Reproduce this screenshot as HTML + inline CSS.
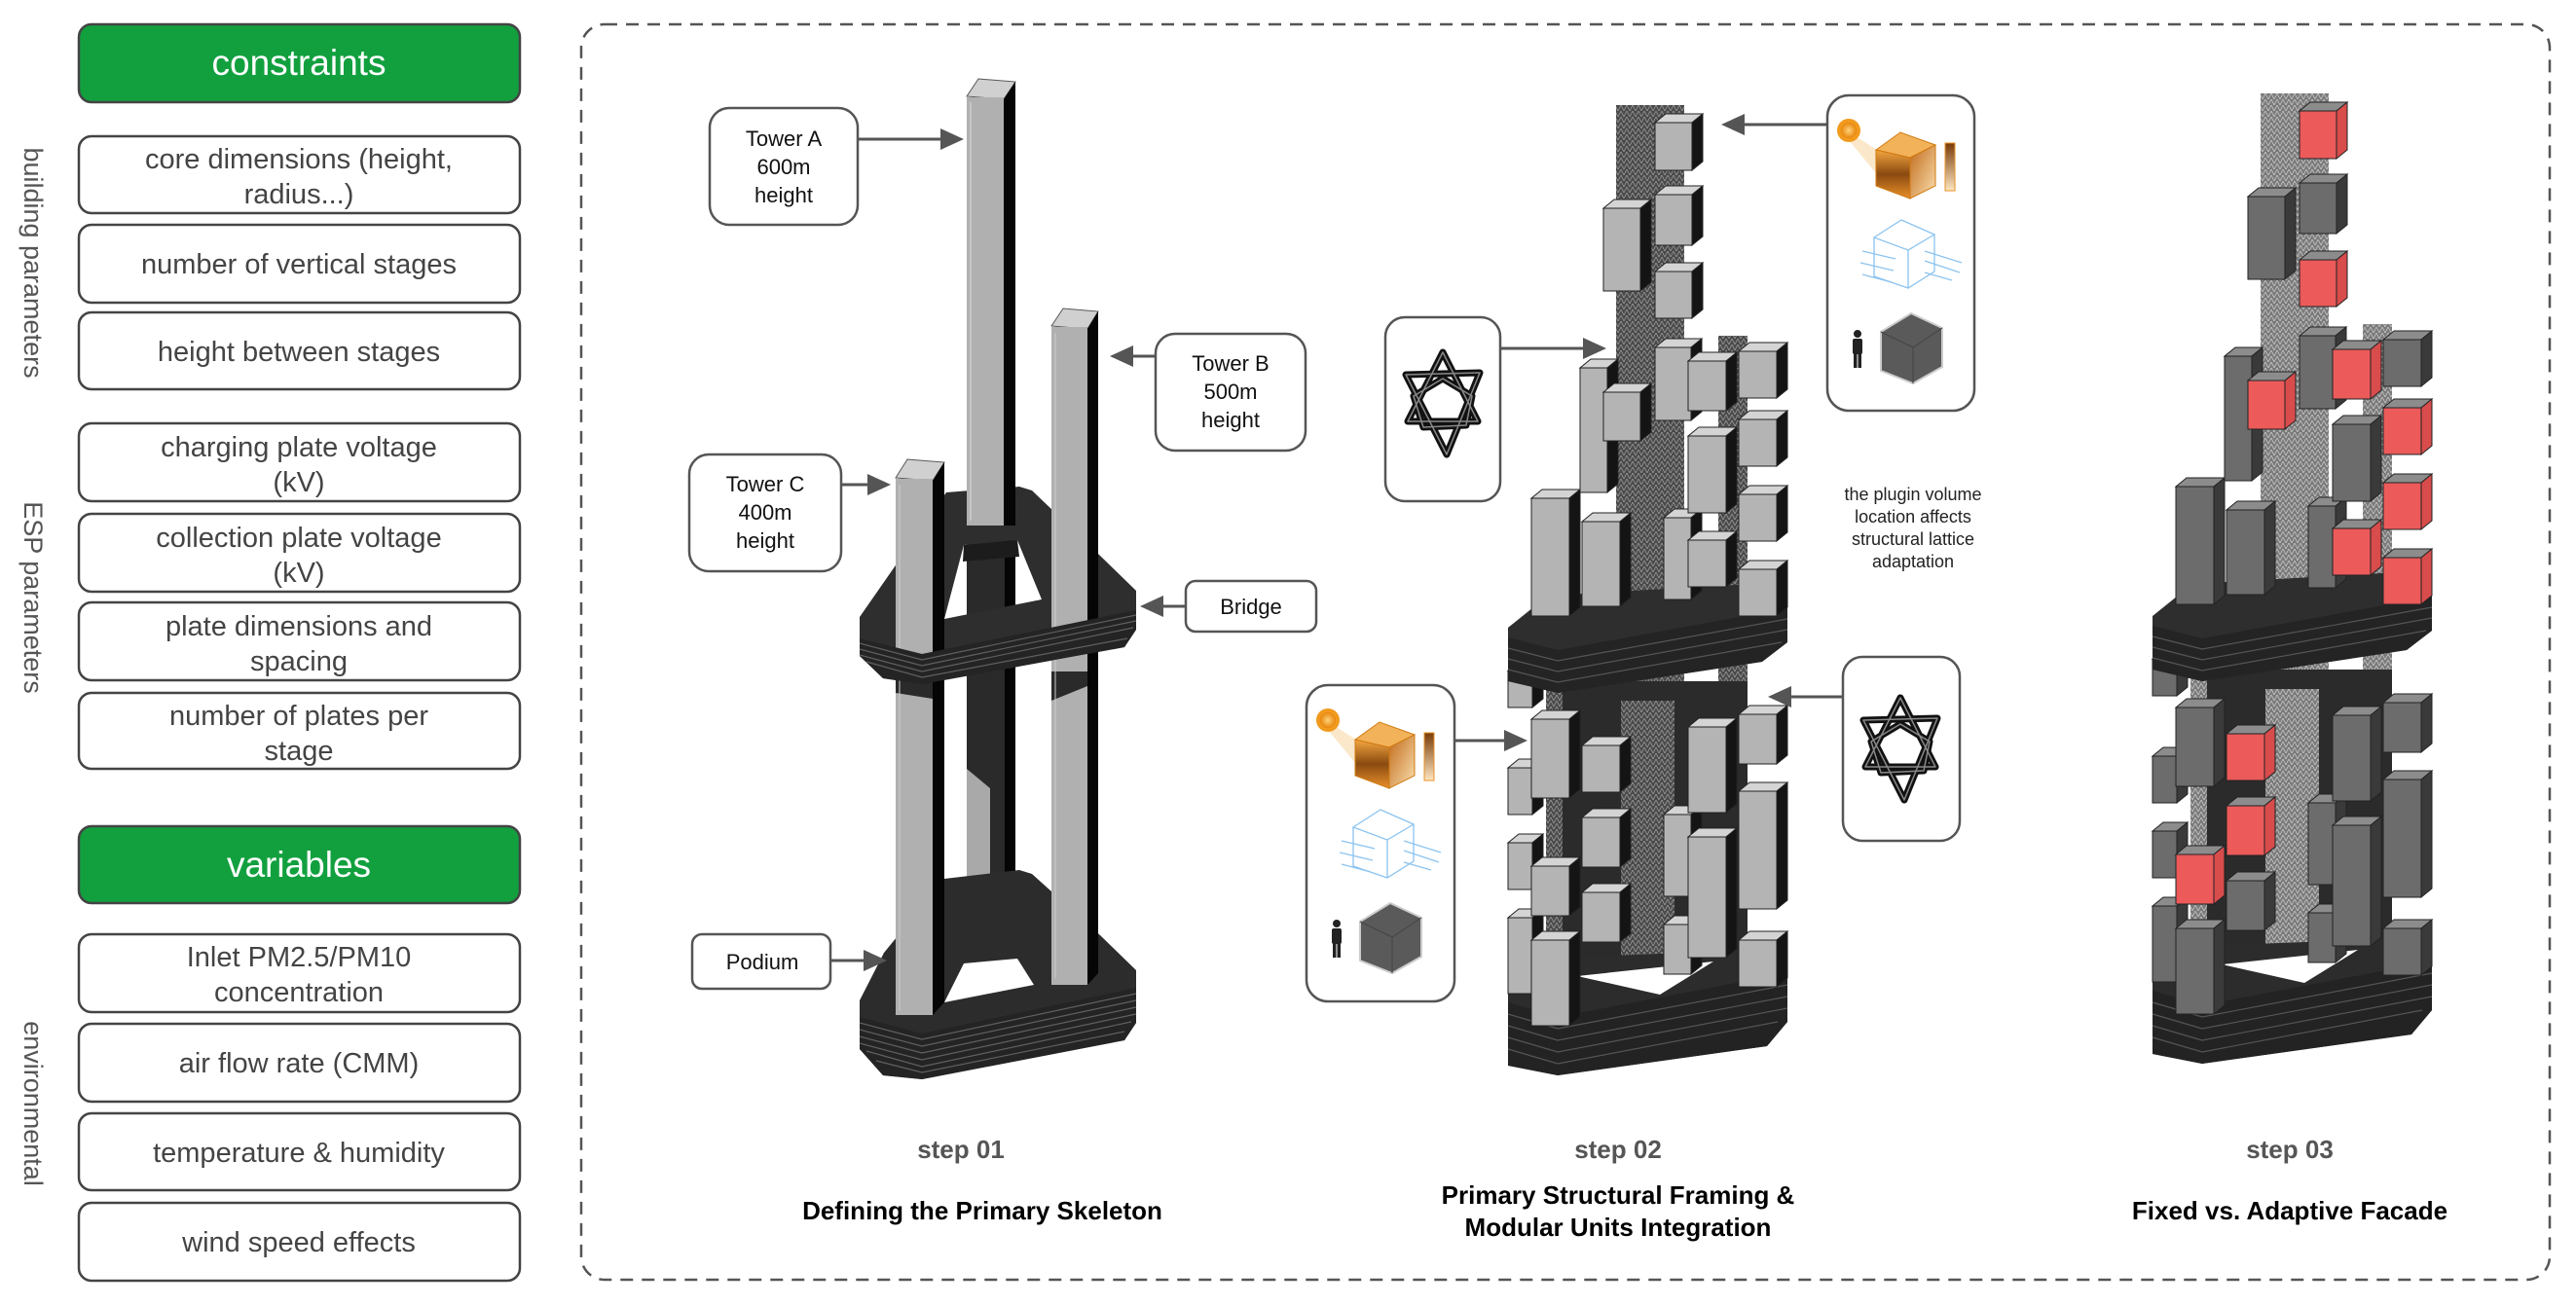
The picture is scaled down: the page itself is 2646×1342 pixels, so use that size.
<!DOCTYPE html>
<html><head><meta charset="utf-8">
<style>
html,body{margin:0;padding:0;background:#fff;}
svg{display:block}
.f{fill:var(--f)} .t{fill:var(--t)} .s{fill:var(--s)}
.f.r{fill:var(--rf)} .s.r{fill:var(--rs)}
.cubes rect, .cubes path{stroke:#222;stroke-width:1}
.c2{--f:#b4b4b4;--t:#d4d4d4;--s:#141414;--rf:#b4b4b4;--rs:#141414}
.c3{--f:#6c6c6c;--t:#8c8c8c;--s:#3a3a3a;--rf:#ec5a5a;--rs:#d84c4c}
.lbl{font-family:"Liberation Sans",Arial,sans-serif;}
</style></head>
<body>
<svg width="2646" height="1342" viewBox="0 0 2646 1342" xmlns="http://www.w3.org/2000/svg">
<defs>
  <pattern id="lat" width="6" height="6" patternUnits="userSpaceOnUse">
    <rect width="6" height="6" fill="#4a4a4a"/>
    <path d="M0 6L3 0L6 6" stroke="#9a9a9a" stroke-width="0.8" fill="none"/>
  </pattern>
  <pattern id="lat3" width="6" height="6" patternUnits="userSpaceOnUse">
    <rect width="6" height="6" fill="#7a7a7a"/>
    <path d="M0 6L3 0L6 6" stroke="#c8c8c8" stroke-width="0.8" fill="none"/>
  </pattern>

  <g id="tower">
    <rect x="1660" y="108" width="70" height="890" fill="var(--lat)"/>
    <rect x="1765" y="345" width="30" height="650" fill="var(--lat)"/>
    <rect x="1588" y="640" width="34" height="350" fill="var(--lat)"/>
    <rect x="1605" y="700" width="190" height="290" fill="#2b2b2b"/>
    <rect x="1665" y="720" width="55" height="270" fill="var(--lat)"/>
    <polygon points="1549,1010 1575,985 1836,975 1836,1050 1815,1075 1600,1105 1549,1095" fill="#2c2c2c"/>
    <polygon points="1620,1003 1760,988 1705,1022" fill="#fff"/>
    <polygon points="1549,1030 1600,1045 1836,1000 1836,1050 1815,1075 1600,1105 1549,1095" fill="#232323"/>
    <g stroke="#555" stroke-width="1.2" fill="none">
      <polyline points="1549,1042 1600,1057 1836,1012"/>
      <polyline points="1549,1054 1600,1069 1836,1024"/>
      <polyline points="1549,1066 1600,1081 1836,1036"/>
      <polyline points="1549,1078 1600,1093 1826,1050"/>
    </g>
    <g class="cubes">
      <g transform="translate(1786 734)"><rect class="f" width="39" height="51"/><path class="t" d="M0 0l11-9h39l-11 9z"/><path class="s" d="M39 0l11-9v51l-11 9z"/></g>
      <g transform="translate(1786 813)"><rect class="f" width="39" height="121"/><path class="t" d="M0 0l11-9h39l-11 9z"/><path class="s" d="M39 0l11-9v121l-11 9z"/></g>
      <g transform="translate(1786 966)"><rect class="f" width="39" height="48"/><path class="t" d="M0 0l11-9h39l-11 9z"/><path class="s" d="M39 0l11-9v48l-11 9z"/></g>
      <g transform="translate(1549 689)"><rect class="f" width="25" height="38"/><path class="t" d="M0 0l11-9h25l-11 9z"/><path class="s" d="M25 0l11-9v38l-11 9z"/></g>
      <g transform="translate(1549 789)"><rect class="f" width="25" height="48"/><path class="t" d="M0 0l11-9h25l-11 9z"/><path class="s" d="M25 0l11-9v48l-11 9z"/></g>
      <g transform="translate(1549 866)"><rect class="f" width="25" height="48"/><path class="t" d="M0 0l11-9h25l-11 9z"/><path class="s" d="M25 0l11-9v48l-11 9z"/></g>
      <g transform="translate(1549 943)"><rect class="f" width="25" height="78"/><path class="t" d="M0 0l11-9h25l-11 9z"/><path class="s" d="M25 0l11-9v78l-11 9z"/></g>
      <g transform="translate(1573 739)"><rect class="f" width="39" height="81"/><path class="t" d="M0 0l11-9h39l-11 9z"/><path class="s" d="M39 0l11-9v81l-11 9z"/></g>
      <g transform="translate(1573 890)"><rect class="f r" width="39" height="51"/><path class="t" d="M0 0l11-9h39l-11 9z"/><path class="s r" d="M39 0l11-9v51l-11 9z"/></g>
      <g transform="translate(1573 966)"><rect class="f" width="39" height="88"/><path class="t" d="M0 0l11-9h39l-11 9z"/><path class="s" d="M39 0l11-9v88l-11 9z"/></g>
      <g transform="translate(1625 766)"><rect class="f r" width="39" height="48"/><path class="t" d="M0 0l11-9h39l-11 9z"/><path class="s r" d="M39 0l11-9v48l-11 9z"/></g>
      <g transform="translate(1625 840)"><rect class="f r" width="39" height="51"/><path class="t" d="M0 0l11-9h39l-11 9z"/><path class="s r" d="M39 0l11-9v51l-11 9z"/></g>
      <g transform="translate(1625 917)"><rect class="f" width="39" height="51"/><path class="t" d="M0 0l11-9h39l-11 9z"/><path class="s" d="M39 0l11-9v51l-11 9z"/></g>
      <g transform="translate(1709 837)"><rect class="f" width="28" height="84"/><path class="t" d="M0 0l11-9h28l-11 9z"/><path class="s" d="M28 0l11-9v84l-11 9z"/></g>
      <g transform="translate(1709 950)"><rect class="f" width="28" height="51"/><path class="t" d="M0 0l11-9h28l-11 9z"/><path class="s" d="M28 0l11-9v51l-11 9z"/></g>
      <g transform="translate(1734 747)"><rect class="f" width="39" height="88"/><path class="t" d="M0 0l11-9h39l-11 9z"/><path class="s" d="M39 0l11-9v88l-11 9z"/></g>
      <g transform="translate(1734 860)"><rect class="f" width="39" height="124"/><path class="t" d="M0 0l11-9h39l-11 9z"/><path class="s" d="M39 0l11-9v124l-11 9z"/></g>
    </g>
    <polygon points="1549,645 1590,612 1836,598 1836,660 1810,680 1600,712 1549,700" fill="#2e2e2e"/>
    <polygon points="1549,655 1600,668 1836,625 1836,660 1810,680 1600,712 1549,700" fill="#242424"/>
    <g stroke="#555" stroke-width="1.2" fill="none">
      <polyline points="1549,666 1600,679 1836,636"/>
      <polyline points="1549,677 1600,690 1836,647"/>
      <polyline points="1549,688 1600,701 1830,660"/>
    </g>
    <g class="cubes">
      <g transform="translate(1786 361)"><rect class="f" width="39" height="48"/><path class="t" d="M0 0l11-9h39l-11 9z"/><path class="s" d="M39 0l11-9v48l-11 9z"/></g>
      <g transform="translate(1786 431)"><rect class="f r" width="39" height="48"/><path class="t" d="M0 0l11-9h39l-11 9z"/><path class="s r" d="M39 0l11-9v48l-11 9z"/></g>
      <g transform="translate(1786 508)"><rect class="f r" width="39" height="48"/><path class="t" d="M0 0l11-9h39l-11 9z"/><path class="s r" d="M39 0l11-9v48l-11 9z"/></g>
      <g transform="translate(1786 585)"><rect class="f r" width="39" height="48"/><path class="t" d="M0 0l11-9h39l-11 9z"/><path class="s r" d="M39 0l11-9v48l-11 9z"/></g>
      <g transform="translate(1573 512)"><rect class="f" width="39" height="121"/><path class="t" d="M0 0l11-9h39l-11 9z"/><path class="s" d="M39 0l11-9v121l-11 9z"/></g>
      <g transform="translate(1623 378)"><rect class="f" width="28" height="128"/><path class="t" d="M0 0l11-9h28l-11 9z"/><path class="s" d="M28 0l11-9v128l-11 9z"/></g>
      <g transform="translate(1647 214)"><rect class="f" width="38" height="85"/><path class="t" d="M0 0l11-9h38l-11 9z"/><path class="s" d="M38 0l11-9v85l-11 9z"/></g>
      <g transform="translate(1647 403)"><rect class="f r" width="38" height="50"/><path class="t" d="M0 0l11-9h38l-11 9z"/><path class="s r" d="M38 0l11-9v50l-11 9z"/></g>
      <g transform="translate(1625 536)"><rect class="f" width="39" height="87"/><path class="t" d="M0 0l11-9h39l-11 9z"/><path class="s" d="M39 0l11-9v87l-11 9z"/></g>
      <g transform="translate(1700 126)"><rect class="f r" width="38" height="49"/><path class="t" d="M0 0l11-9h38l-11 9z"/><path class="s r" d="M38 0l11-9v49l-11 9z"/></g>
      <g transform="translate(1700 200)"><rect class="f" width="38" height="52"/><path class="t" d="M0 0l11-9h38l-11 9z"/><path class="s" d="M38 0l11-9v52l-11 9z"/></g>
      <g transform="translate(1700 279)"><rect class="f r" width="38" height="48"/><path class="t" d="M0 0l11-9h38l-11 9z"/><path class="s r" d="M38 0l11-9v48l-11 9z"/></g>
      <g transform="translate(1700 357)"><rect class="f" width="37" height="75"/><path class="t" d="M0 0l11-9h37l-11 9z"/><path class="s" d="M37 0l11-9v75l-11 9z"/></g>
      <g transform="translate(1709 532)"><rect class="f" width="28" height="84"/><path class="t" d="M0 0l11-9h28l-11 9z"/><path class="s" d="M28 0l11-9v84l-11 9z"/></g>
      <g transform="translate(1734 371)"><rect class="f r" width="39" height="51"/><path class="t" d="M0 0l11-9h39l-11 9z"/><path class="s r" d="M39 0l11-9v51l-11 9z"/></g>
      <g transform="translate(1734 448)"><rect class="f" width="39" height="79"/><path class="t" d="M0 0l11-9h39l-11 9z"/><path class="s" d="M39 0l11-9v79l-11 9z"/></g>
      <g transform="translate(1734 555)"><rect class="f r" width="39" height="48"/><path class="t" d="M0 0l11-9h39l-11 9z"/><path class="s r" d="M39 0l11-9v48l-11 9z"/></g>
    </g>
  </g>

  <radialGradient id="sun" cx="0.5" cy="0.5" r="0.5"><stop offset="0" stop-color="#ffd27a"/><stop offset="1" stop-color="#e8860c"/></radialGradient>
  <linearGradient id="og" x1="0" y1="0" x2="0" y2="1"><stop offset="0" stop-color="#f4a640"/><stop offset="0.5" stop-color="#8a4a10"/><stop offset="1" stop-color="#e8902a"/></linearGradient>
  <linearGradient id="og2" x1="0" y1="0" x2="1" y2="1"><stop offset="0" stop-color="#c06a1a"/><stop offset="1" stop-color="#fbe0b0"/></linearGradient>
  <linearGradient id="bar" x1="0" y1="0" x2="0" y2="1"><stop offset="0" stop-color="#7a3c08"/><stop offset="1" stop-color="#fde6c0"/></linearGradient>
  <g id="icons">
    <polygon points="26,40 60,62 50,80 22,46" fill="#f8d9a8" opacity="0.6"/>
    <circle cx="22" cy="36" r="12" fill="#f19a1e"/>
    <circle cx="22" cy="36" r="8" fill="url(#sun)"/>
    <polygon points="50,56 75,38 111,51 85,64" fill="#f2b25a" stroke="#d07a10" stroke-width="1"/>
    <polygon points="50,56 85,64 85,106 50,93" fill="url(#og)" stroke="#d07a10" stroke-width="1"/>
    <polygon points="85,64 111,51 111,93 85,106" fill="url(#og2)" stroke="#d07a10" stroke-width="1"/>
    <rect x="121" y="49" width="10" height="49" fill="url(#bar)" stroke="#e8902a" stroke-width="1"/>
    <g stroke="#8cc4f0" stroke-width="1.3" fill="none">
      <polygon points="48,146 76,128 110,143 83,159"/>
      <polyline points="48,146 48,186 83,198 110,181 110,143"/>
      <line x1="83" y1="159" x2="83" y2="198"/>
      <line x1="36" y1="160" x2="70" y2="168"/><line x1="34" y1="172" x2="68" y2="180"/><line x1="36" y1="184" x2="66" y2="192"/>
      <line x1="100" y1="160" x2="138" y2="172"/><line x1="100" y1="170" x2="136" y2="182"/><line x1="100" y1="182" x2="128" y2="190"/>
    </g>
    <g fill="#222">
      <circle cx="31" cy="245" r="4"/>
      <rect x="26" y="250" width="10" height="16" rx="2"/>
      <rect x="27" y="264" width="3.5" height="16"/><rect x="31.5" y="264" width="3.5" height="16"/>
    </g>
    <polygon points="86,224 118,239 118,279 88,296 55,283 55,243" fill="#5a5a5a" stroke="#ccc" stroke-width="2"/>
    <polyline points="55,243 88,259 118,239" fill="none" stroke="#444" stroke-width="1"/>
    <line x1="88" y1="259" x2="88" y2="296" stroke="#444" stroke-width="1"/>
  </g>
  <g id="star" fill="none" stroke-linejoin="round">
    <g stroke="#111" stroke-width="7">
      <polygon points="0,-53 36,18 -36,18"/>
      <polygon points="4,52 -38,-30 38,-32"/>
      <polygon points="-30,-8 0,-26 30,-8 24,22 -20,24"/>
    </g>
    <g stroke="#888" stroke-width="1.5">
      <polygon points="0,-53 36,18 -36,18"/>
      <polygon points="4,52 -38,-30 38,-32"/>
      <polygon points="-30,-8 0,-26 30,-8 24,22 -20,24"/>
    </g>
  </g>
</defs>

<g class="lbl" font-size="29" fill="#444" text-anchor="middle">
  <rect x="81" y="25" width="453" height="80" rx="13" fill="#12a03f" stroke="#444" stroke-width="2.5"/>
  <text x="307" y="77" font-size="37" fill="#fff">constraints</text>
  <rect x="81" y="140" width="453" height="79" rx="13" fill="#fff" stroke="#444" stroke-width="2.5"/>
  <text x="307" y="173">core dimensions (height,</text><text x="307" y="209">radius...)</text>
  <rect x="81" y="231" width="453" height="80" rx="13" fill="#fff" stroke="#444" stroke-width="2.5"/>
  <text x="307" y="281">number of vertical stages</text>
  <rect x="81" y="321" width="453" height="79" rx="13" fill="#fff" stroke="#444" stroke-width="2.5"/>
  <text x="307" y="371">height between stages</text>
  <rect x="81" y="435" width="453" height="80" rx="13" fill="#fff" stroke="#444" stroke-width="2.5"/>
  <text x="307" y="469">charging plate voltage</text><text x="307" y="505">(kV)</text>
  <rect x="81" y="528" width="453" height="80" rx="13" fill="#fff" stroke="#444" stroke-width="2.5"/>
  <text x="307" y="562">collection plate voltage</text><text x="307" y="598">(kV)</text>
  <rect x="81" y="619" width="453" height="80" rx="13" fill="#fff" stroke="#444" stroke-width="2.5"/>
  <text x="307" y="653">plate dimensions and</text><text x="307" y="689">spacing</text>
  <rect x="81" y="712" width="453" height="78" rx="13" fill="#fff" stroke="#444" stroke-width="2.5"/>
  <text x="307" y="745">number of plates per</text><text x="307" y="781">stage</text>
  <rect x="81" y="849" width="453" height="79" rx="13" fill="#12a03f" stroke="#444" stroke-width="2.5"/>
  <text x="307" y="901" font-size="37" fill="#fff">variables</text>
  <rect x="81" y="960" width="453" height="80" rx="13" fill="#fff" stroke="#444" stroke-width="2.5"/>
  <text x="307" y="993">Inlet PM2.5/PM10</text><text x="307" y="1029">concentration</text>
  <rect x="81" y="1052" width="453" height="80" rx="13" fill="#fff" stroke="#444" stroke-width="2.5"/>
  <text x="307" y="1102">air flow rate (CMM)</text>
  <rect x="81" y="1144" width="453" height="79" rx="13" fill="#fff" stroke="#444" stroke-width="2.5"/>
  <text x="307" y="1194">temperature &amp; humidity</text>
  <rect x="81" y="1236" width="453" height="80" rx="13" fill="#fff" stroke="#444" stroke-width="2.5"/>
  <text x="307" y="1286">wind speed effects</text>
</g>
<g class="lbl" font-size="27" fill="#555" text-anchor="middle">
  <text transform="translate(25 270) rotate(90)">building parameters</text>
  <text transform="translate(25 614) rotate(90)">ESP parameters</text>
  <text transform="translate(25 1134) rotate(90)">environmental</text>
</g>

<rect x="597" y="25" width="2022" height="1290" rx="24" fill="none" stroke="#555" stroke-width="2.5" stroke-dasharray="13 9"/>

<!-- STEP 1 -->
<g>
  <rect x="993" y="520" width="50" height="430" fill="#2a2a2a"/>
  <rect x="1032" y="520" width="11" height="430" fill="#050505"/>
  <polygon points="993,790 1017,810 1017,925 993,925" fill="#a9a9a9"/>
  <path fill-rule="evenodd" fill="#2c2c2c" d="M883,1028 L908,979 L970,903 L1047,894 L1060,898 L1130,961 L1167,997 L1167,1051 L1155,1069 L947,1109 L907,1105 L883,1078 Z M970,1030 L990,990 L1045,985 L1062,1012 Z"/>
  <path fill-rule="evenodd" fill="#2e2e2e" d="M883,634 L972,506 L1047,500 L1060,504 L1130,571 L1167,607 L1167,647 L1155,665 L947,703 L907,697 L883,674 Z M970,636 L990,560 L1045,555 L1070,616 Z"/>
  <polygon points="990,560 1045,555 1047,572 989,577" fill="#1c1c1c"/>
  <polygon points="993,99 1005,81 1043,84 1031,102" fill="#d0d0d0" stroke="#555" stroke-width="1"/>
  <rect x="993" y="100" width="38" height="440" fill="#b0b0b0"/>
  <polygon points="1031,102 1043,84 1043,540 1031,540" fill="#050505"/>
  <line x1="997" y1="105" x2="997" y2="535" stroke="#ddd" stroke-width="1"/>
  <polygon points="1080,335 1092,317 1128,320 1117,338" fill="#d0d0d0" stroke="#555" stroke-width="1"/>
  <rect x="1080" y="336" width="37" height="676" fill="#b0b0b0"/>
  <polygon points="1117,338 1128,320 1128,1000 1117,1012" fill="#050505"/>
  <polygon points="1080,690 1117,690 1117,705 1080,720" fill="#2a2a2a"/>
  <line x1="1084" y1="342" x2="1084" y2="1005" stroke="#ccc" stroke-width="1"/>
  <polygon points="920,491 932,472 970,475 958,494" fill="#d0d0d0" stroke="#555" stroke-width="1"/>
  <rect x="920" y="492" width="38" height="551" fill="#b0b0b0"/>
  <polygon points="958,494 970,475 970,1030 958,1043" fill="#050505"/>
  <polygon points="920,695 958,695 958,718 920,712" fill="#2a2a2a"/>
  <line x1="924" y1="498" x2="924" y2="1038" stroke="#ccc" stroke-width="1"/>
  <polygon points="883,656 947,672 1167,627 1167,647 1155,665 947,703 907,697 883,674" fill="#242424"/>
  <g stroke="#606060" stroke-width="1.2" fill="none">
    <polyline points="883,661 947,678 1167,632"/>
    <polyline points="883,667 947,684 1167,638"/>
    <polyline points="883,673 947,690 1164,645"/>
    <polyline points="890,680 947,696 1158,656"/>
  </g>
  <polygon points="883,1045 947,1062 1167,1015 1167,1051 1155,1069 947,1109 907,1105 883,1078" fill="#242424"/>
  <g stroke="#606060" stroke-width="1.2" fill="none">
    <polyline points="883,1051 947,1068 1167,1021"/>
    <polyline points="883,1058 947,1075 1167,1028"/>
    <polyline points="883,1065 947,1082 1167,1035"/>
    <polyline points="883,1072 947,1089 1167,1042"/>
    <polyline points="890,1080 947,1096 1162,1050"/>
    <polyline points="900,1090 947,1102 1155,1060"/>
  </g>
  <g class="lbl" font-size="22" fill="#111" text-anchor="middle">
    <rect x="729" y="111" width="152" height="120" rx="20" fill="#fff" stroke="#555" stroke-width="2.5"/>
    <text x="805" y="150">Tower A</text><text x="805" y="179">600m</text><text x="805" y="208">height</text>
    <rect x="1187" y="343" width="154" height="120" rx="20" fill="#fff" stroke="#555" stroke-width="2.5"/>
    <text x="1264" y="381">Tower B</text><text x="1264" y="410">500m</text><text x="1264" y="439">height</text>
    <rect x="708" y="467" width="156" height="120" rx="20" fill="#fff" stroke="#555" stroke-width="2.5"/>
    <text x="786" y="505">Tower C</text><text x="786" y="534">400m</text><text x="786" y="563">height</text>
    <rect x="1218" y="597" width="134" height="52" rx="10" fill="#fff" stroke="#555" stroke-width="2.5"/>
    <text x="1285" y="631">Bridge</text>
    <rect x="711" y="960" width="142" height="56" rx="10" fill="#fff" stroke="#555" stroke-width="2.5"/>
    <text x="783" y="996">Podium</text>
  </g>
  <g stroke="#555" stroke-width="3" fill="#555">
    <line x1="881" y1="143" x2="968" y2="143"/><polygon points="990,143 966,132 966,154" stroke="none"/>
    <line x1="1187" y1="366" x2="1160" y2="366"/><polygon points="1140,366 1164,355 1164,377" stroke="none"/>
    <line x1="864" y1="498" x2="894" y2="498"/><polygon points="915,498 891,487 891,509" stroke="none"/>
    <line x1="1218" y1="623" x2="1192" y2="623"/><polygon points="1171,623 1195,612 1195,634" stroke="none"/>
    <line x1="853" y1="987" x2="890" y2="987"/><polygon points="911,987 887,976 887,998" stroke="none"/>
  </g>
</g>

<use href="#tower" class="c2" style="--lat:url(#lat)"/>
<use href="#tower" class="c3" style="--lat:url(#lat3)" transform="translate(662 -12)"/>

<g>
  <rect x="1877" y="98" width="151" height="324" rx="22" fill="#fff" stroke="#555" stroke-width="2.5"/>
  <use href="#icons" transform="translate(1877 98)"/>
  <rect x="1342" y="704" width="152" height="325" rx="22" fill="#fff" stroke="#555" stroke-width="2.5"/>
  <use href="#icons" transform="translate(1342 704)"/>
  <rect x="1423" y="326" width="118" height="189" rx="20" fill="#fff" stroke="#555" stroke-width="2.5"/>
  <use href="#star" transform="translate(1482 415)"/>
  <rect x="1893" y="675" width="120" height="189" rx="20" fill="#fff" stroke="#555" stroke-width="2.5"/>
  <use href="#star" transform="translate(1952 770)"/>
  <g stroke="#555" stroke-width="3" fill="#555">
    <line x1="1877" y1="128" x2="1790" y2="128"/><polygon points="1768,128 1792,117 1792,139" stroke="none"/>
    <line x1="1541" y1="358" x2="1628" y2="358"/><polygon points="1650,358 1626,347 1626,369" stroke="none"/>
    <line x1="1893" y1="716" x2="1838" y2="716"/><polygon points="1816,716 1840,705 1840,727" stroke="none"/>
    <line x1="1494" y1="761" x2="1547" y2="761"/><polygon points="1569,761 1545,750 1545,772" stroke="none"/>
  </g>
  <g class="lbl" font-size="18" fill="#222" text-anchor="middle">
    <text x="1965" y="514">the plugin volume</text>
    <text x="1965" y="537">location affects</text>
    <text x="1965" y="560">structural lattice</text>
    <text x="1965" y="583">adaptation</text>
  </g>
</g>

<g class="lbl" text-anchor="middle">
  <text x="987" y="1190" font-size="26" font-weight="bold" fill="#555">step 01</text>
  <text x="1009" y="1253" font-size="26" font-weight="bold" fill="#000">Defining the Primary Skeleton</text>
  <text x="1662" y="1190" font-size="26" font-weight="bold" fill="#555">step 02</text>
  <text x="1662" y="1237" font-size="26" font-weight="bold" fill="#000">Primary Structural Framing &amp;</text>
  <text x="1662" y="1270" font-size="26" font-weight="bold" fill="#000">Modular Units Integration</text>
  <text x="2352" y="1190" font-size="26" font-weight="bold" fill="#555">step 03</text>
  <text x="2352" y="1253" font-size="26" font-weight="bold" fill="#000">Fixed vs. Adaptive Facade</text>
</g>
</svg>
</body></html>
